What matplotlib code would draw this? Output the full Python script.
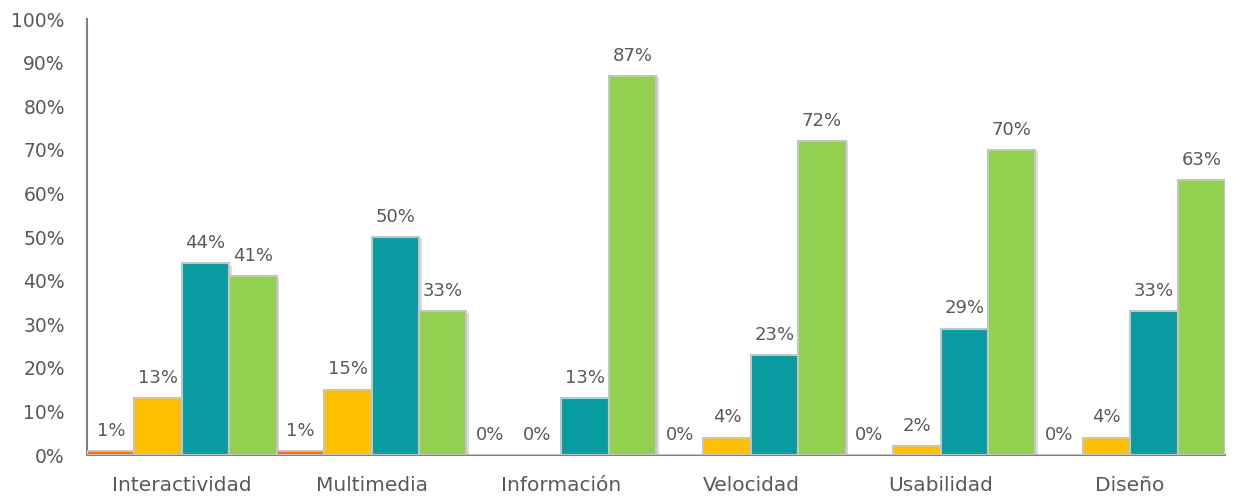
import matplotlib
matplotlib.use("Agg")
import matplotlib.pyplot as plt
import matplotlib.patheffects as pe
import numpy as np

categories = ["Interactividad", "Multimedia", "Información", "Velocidad", "Usabilidad", "Diseño"]
serie_naranja = [1, 1, 0, 0, 0, 0]
serie_amarilla = [13, 15, 0, 4, 2, 4]
serie_teal = [44, 50, 13, 23, 29, 33]
serie_verde = [41, 33, 87, 72, 70, 63]

series = [serie_naranja, serie_amarilla, serie_teal, serie_verde]
colors = ["#FF6A00", "#FFC000", "#089CA2", "#92D050"]

plt.rcParams["font.family"] = ["DejaVu Sans"]
text_color = "#595959"

fig = plt.figure(figsize=(12.33, 5.04), dpi=100)
ax = fig.add_axes([0.0706, 0.0972, 0.9229, 0.8651])

x = np.arange(len(categories))
width = 0.25
offsets = [-1.5, -0.5, 0.5, 1.5]

for vals, color, off in zip(series, colors, offsets):
    bars = ax.bar(x + off * width, vals, width, color=color,
                  edgecolor="#C4C4C4", linewidth=1.5, zorder=3)
    for b in bars:
        b.set_path_effects([pe.SimplePatchShadow(offset=(2, -1), alpha=0.25, shadow_rgbFace="#7f7f7f"),
                            pe.Normal()])
    for b, v in zip(bars, vals):
        ax.annotate(f"{v}%", (b.get_x() + b.get_width() / 2, v),
                    xytext=(0, 8), textcoords="offset points",
                    ha="center", va="bottom", fontsize=13, color=text_color)

ax.set_xlim(-0.5, len(categories) - 0.5)
ax.set_ylim(0, 100)
ax.set_yticks(np.arange(0, 101, 10))
ax.set_yticklabels([f"{t}%" for t in range(0, 101, 10)])
ax.set_xticks(x)
ax.set_xticklabels(categories, fontsize=14.5, color=text_color)
ax.tick_params(axis="y", length=0, pad=16, labelsize=13.5, labelcolor=text_color)
ax.tick_params(axis="x", length=0, pad=15)

for side in ["top", "right"]:
    ax.spines[side].set_visible(False)
for side in ["left", "bottom"]:
    ax.spines[side].set_color("#7f7f7f")
    ax.spines[side].set_linewidth(1.5)

fig.savefig("out.png", dpi=100)
